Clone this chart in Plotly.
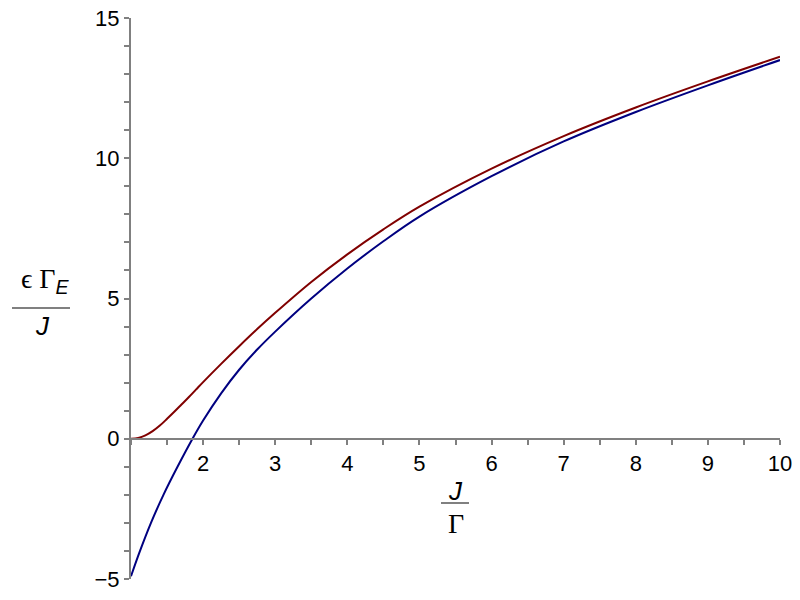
import plotly.graph_objects as go

# Data
red_x = [1.0, 1.1, 1.2, 1.3, 1.4, 1.5, 1.6, 1.7, 1.8, 1.9, 2.0, 2.25, 2.5, 2.75, 3.0, 3.5, 4.0, 4.5, 5.0, 6.0, 7.0, 8.0, 9.0, 10.0]
red_vals = [0.0, 0.03, 0.12, 0.27, 0.47, 0.71, 0.96, 1.22, 1.48, 1.75, 2.02, 2.67, 3.3, 3.91, 4.49, 5.59, 6.575, 7.465, 8.275, 9.63, 10.79, 11.81, 12.74, 13.62]
blue_x = [1.0, 1.125, 1.277, 1.45, 1.645, 1.853, 2.0, 2.25, 2.5, 2.75, 3.0, 3.5, 4.0, 4.5, 5.0, 6.0, 7.0, 8.0, 9.0, 10.0]
blue_vals = [-4.9, -4.0, -3.0, -2.0, -1.0, 0.0, 0.65, 1.62, 2.46, 3.18, 3.82, 5.0, 6.07, 7.04, 7.92, 9.36, 10.6, 11.65, 12.6, 13.5]

x_tick_vals = [2, 3, 4, 5, 6, 7, 8, 9, 10]
x_tick_text = ["2", "3", "4", "5", "6", "7", "8", "9", "10"]
y_tick_vals = [-5, 0, 5, 10, 15]
y_tick_text = ["\u22125", "0", "5", "10", "15"]

RED = "#800000"
BLUE = "#000080"
AXIS = "#808080"

fig = go.Figure()
fig.add_trace(go.Scatter(x=red_x, y=red_vals, mode="lines",
                         line=dict(color=RED, width=2, shape="spline", smoothing=1.0),
                         showlegend=False))
fig.add_trace(go.Scatter(x=blue_x, y=blue_vals, mode="lines",
                         line=dict(color=BLUE, width=2, shape="spline", smoothing=1.0),
                         showlegend=False))

L, T = 131, 18
W, H = 649, 561
R = 800 - L - W
B = 600 - T - H

def px(xp):
    return (xp - L) / W

def py(yp):
    return (T + H - yp) / H

fig.update_layout(
    width=800, height=600,
    margin=dict(l=L, r=R, t=T, b=B, pad=0, autoexpand=False),
    paper_bgcolor="white", plot_bgcolor="white",
    font=dict(family="Liberation Sans, Arial, sans-serif", size=22, color="black"),
    xaxis=dict(range=[1, 10], anchor="free", position=0.25, automargin=False,
               showgrid=False, zeroline=False, ticklabeloverflow="allow",
               showline=True, linecolor=AXIS, linewidth=2,
               ticks="outside", ticklen=5, tickwidth=1.5, tickcolor=AXIS,
               tickvals=x_tick_vals, ticktext=x_tick_text,
               minor=dict(dtick=0.5, tick0=1, ticks="outside", ticklen=5, tickwidth=1.5, tickcolor=AXIS, showgrid=False),
               tickfont=dict(size=22)),
    yaxis=dict(range=[-5, 15], automargin=False,
               showgrid=False, zeroline=False, ticklabeloverflow="allow",
               showline=True, linecolor=AXIS, linewidth=2,
               ticks="outside", ticklen=5, tickwidth=1.5, tickcolor=AXIS,
               tickvals=y_tick_vals, ticktext=y_tick_text,
               minor=dict(dtick=1, tick0=0, ticks="outside", ticklen=5, tickwidth=1.5, tickcolor=AXIS, showgrid=False),
               tickfont=dict(size=22)),
)

serif = "Liberation Serif, Times New Roman, serif"
sans = "Liberation Sans, Arial, sans-serif"

annotations = [
    # y-axis title as a fraction
    dict(x=px(45), y=py(280), text="\u03f5 \u0393<sub><i><span style='font-family:Liberation Sans'>E</span></i></sub>",
         font=dict(family=serif, size=28)),
    dict(x=px(42), y=py(326), text="<i>J</i>", font=dict(family=sans, size=26)),
    # x-axis title as a fraction
    dict(x=px(455), y=py(491), text="<i>J</i>", font=dict(family=sans, size=26)),
    dict(x=px(456), y=py(523), text="\u0393", font=dict(family=serif, size=28)),
]
for a in annotations:
    a.update(xref="paper", yref="paper", showarrow=False, xanchor="center", yanchor="middle")
fig.update_layout(annotations=annotations)

fig.add_shape(type="line", xref="paper", yref="paper",
              x0=px(12), x1=px(70), y0=py(308), y1=py(308),
              line=dict(color=AXIS, width=2))
fig.add_shape(type="line", xref="paper", yref="paper",
              x0=px(441), x1=px(469), y0=py(503), y1=py(503),
              line=dict(color=AXIS, width=2))

# remove the browser's default 8px page margin so the figure fills the window
fig.write_html("out.html", config={"displayModeBar": False},
               post_script="document.body.style.margin='0';")
